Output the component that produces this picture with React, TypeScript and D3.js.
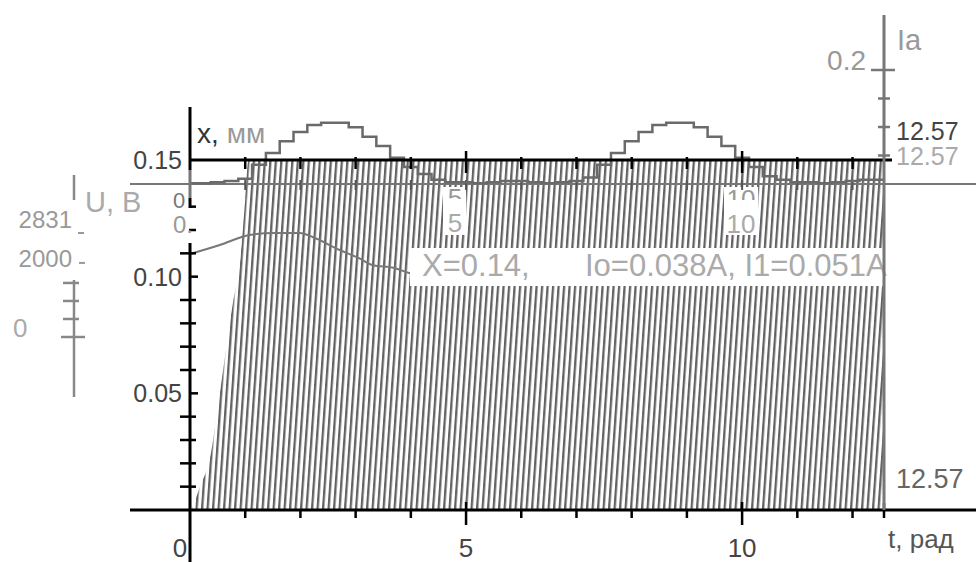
import React from 'react';
import * as d3 from 'd3';

// ---- data ----
const tMajor = [0, 5, 10];
const tMinor = [1, 2, 3, 4, 6, 7, 8, 9, 11, 12];
const tEnd = 12.57;
const yMinor = [0.01, 0.02, 0.03, 0.04, 0.06, 0.07, 0.08, 0.09, 0.11, 0.12, 0.13];
const yMajor = [0.05, 0.1];
const yLabels = ['0.05', '0.10', '0.15'];
const yLabelVals = [0.05, 0.1, 0.15];

// x(t), mm (staircase)
const stairT = [0, 0.25, 0.5, 0.75, 1.0, 1.25, 1.5, 1.75, 2.0, 2.25, 2.5, 2.75, 3.0, 3.25, 3.5, 3.75, 4.0, 4.25, 4.5, 4.75, 5.0, 5.25, 5.5, 5.75, 6.0, 6.25, 6.5, 6.75, 7.0, 7.25, 7.5, 7.75, 8.0, 8.25, 8.5, 8.75, 9.0, 9.25, 9.5, 9.75, 10.0, 10.25, 10.5, 10.75, 11.0, 11.25, 11.5, 11.75, 12.0, 12.25, 12.57];
const stairX = [0.14, 0.14, 0.1405, 0.141, 0.142, 0.148, 0.153, 0.158, 0.162, 0.165, 0.166, 0.166, 0.164, 0.16, 0.156, 0.151, 0.147, 0.144, 0.1415, 0.1405, 0.1405, 0.14, 0.1405, 0.141, 0.141, 0.1405, 0.14, 0.1405, 0.141, 0.1425, 0.148, 0.153, 0.158, 0.162, 0.165, 0.166, 0.166, 0.164, 0.16, 0.156, 0.151, 0.147, 0.143, 0.1415, 0.1405, 0.1405, 0.14, 0.1405, 0.141, 0.1415, 0.1415];

// U(t), V
const uT = [0, 0.54, 1.08, 1.53, 1.99, 2.22, 2.71, 3.07, 3.3, 3.7, 3.97, 4.4];
const uV = [2303, 2553, 2831, 2886, 2886, 2775, 2414, 2180, 2000, 1915, 1776, 1650];
const uTicks = [500, 1000, 1500];

// envelope of the fast current (hatched area)
const envT = [0.03, 0.18, 0.36, 0.54, 0.78, 0.9, 1.0, 1.06, 12.57];
const envV = [0, 0.01, 0.022, 0.05, 0.089, 0.105, 0.133, 0.15, 0.15];

// Ia axis ticks
const iaTicks = [0.05, 0.1, 0.15, 0.2];

const FONT = 'Liberation Sans, Arial, sans-serif';

export default function App() {
  const tS = d3.scaleLinear().domain([0, tEnd]).range([190, 884]);
  const yS = d3.scaleLinear().domain([0, 0.15]).range([510, 160]);
  const uS = d3.scaleLinear().domain([0, 2831]).range([337, 235]);
  const iaS = d3.scaleLinear().domain([0, 0.2]).range([184, 70]);

  const env = envT.map((t, i) => ({ t, v: envV[i] }));
  const area = d3
    .area<{ t: number; v: number }>()
    .x((d) => tS(d.t))
    .y0(yS(0))
    .y1((d) => yS(d.v))
    .curve(d3.curveMonotoneX);

  const stair = stairT.map((t, i) => ({ t, v: stairX[i] }));
  const stairLine = d3
    .line<{ t: number; v: number }>()
    .x((d) => tS(d.t))
    .y((d) => yS(d.v))
    .curve(d3.curveStep);

  const uData = uT.map((t, i) => ({ t, v: uV[i] }));
  const uLine = d3
    .line<{ t: number; v: number }>()
    .x((d) => tS(d.t))
    .y((d) => uS(d.v))
    .curve(d3.curveMonotoneX);

  const gray = '#6a6a6a';
  const allT = [...tMinor, ...tMajor.filter((t) => t > 0)];

  return (
    <svg
      width={976}
      height={562}
      style={{ position: 'absolute', left: 0, top: 0 }}
      fontFamily={FONT}
    >
      <defs>
        <pattern
          id="hatch"
          patternUnits="userSpaceOnUse"
          width={5.5}
          height={60}
          patternTransform="skewX(-4)"
        >
          <rect x={0} y={0} width={2.3} height={60} fill="#626262" />
        </pattern>
        <clipPath id="clip5">
          <rect x={440} y={186} width={30} height={13} />
        </clipPath>
        <clipPath id="clip10">
          <rect x={720} y={186} width={40} height={14} />
        </clipPath>
      </defs>
      <rect x={0} y={0} width={976} height={562} fill="#fff" />

      {/* hatched fast current */}
      <path d={area(env) || ''} fill="url(#hatch)" />

      {/* white backgrounds for mid labels */}
      <rect x={443} y={187} width={23} height={48} fill="#fff" />
      <rect x={724} y={187} width={34} height={48} fill="#fff" />

      {/* gray base line (x = 0.14 / Ia = 0) */}
      <line x1={130} x2={976} y1={184} y2={184} stroke="#777" strokeWidth={2} />
      {allT.map((t) => (
        <line key={'g' + t} x1={tS(t)} x2={tS(t)} y1={180} y2={190} stroke="#555" strokeWidth={2} />
      ))}

      {/* staircase x(t) */}
      <path d={stairLine(stair) || ''} fill="none" stroke={gray} strokeWidth={2.5} />

      {/* U curve */}
      <path d={uLine(uData) || ''} fill="none" stroke="#777" strokeWidth={2} />

      {/* label box */}
      <rect x={410} y={248} width={488} height={38} fill="#fff" />
      <text x={422} y={276} fontSize={31} fill="#aaa">X=0.14,</text>
      <text x={585} y={276} fontSize={31} fill="#aaa">Io=0.038A, I1=0.051A</text>

      {/* mid labels */}
      <text x={455} y={207} fontSize={26} fill="#999" textAnchor="middle" clipPath="url(#clip5)">5</text>
      <text x={455} y={232} fontSize={26} fill="#aaa" textAnchor="middle">5</text>
      <text x={741} y={208} fontSize={26} fill="#999" textAnchor="middle" clipPath="url(#clip10)">10</text>
      <text x={741} y={233} fontSize={26} fill="#aaa" textAnchor="middle">10</text>

      {/* black top line at 0.15 */}
      <line x1={190} x2={892} y1={yS(0.15)} y2={yS(0.15)} stroke="#000" strokeWidth={3} />
      {tMinor.map((t) => (
        <line key={'tt' + t} x1={tS(t)} x2={tS(t)} y1={157} y2={169} stroke="#000" strokeWidth={2.5} />
      ))}
      {tMajor.filter((t) => t > 0).map((t) => (
        <line key={'tT' + t} x1={tS(t)} x2={tS(t)} y1={151} y2={173} stroke="#000" strokeWidth={2.5} />
      ))}

      {/* black x axis */}
      <line x1={130} x2={976} y1={yS(0)} y2={yS(0)} stroke="#000" strokeWidth={3} />
      {tMinor.map((t) => (
        <line key={'bt' + t} x1={tS(t)} x2={tS(t)} y1={510} y2={518} stroke="#000" strokeWidth={2.5} />
      ))}
      {tMajor.filter((t) => t > 0).map((t) => (
        <line key={'bT' + t} x1={tS(t)} x2={tS(t)} y1={502} y2={525} stroke="#000" strokeWidth={2.5} />
      ))}
      <line x1={tS(tEnd)} x2={tS(tEnd)} y1={503} y2={518} stroke="#000" strokeWidth={2.5} />

      {/* black y axis ticks */}
      {yMinor.map((v) => (
        <line key={'ym' + v} x1={180} x2={196} y1={yS(v)} y2={yS(v)} stroke="#000" strokeWidth={2.5} />
      ))}
      {yMajor.map((v) => (
        <line key={'yM' + v} x1={190} x2={198} y1={yS(v)} y2={yS(v)} stroke="#000" strokeWidth={2.5} />
      ))}
      {/* blank patch behind the "0" labels */}
      <rect x={166} y={188} width={23} height={55} fill="#fff" />

      {/* black y axis (interrupted) */}
      <line x1={190} x2={190} y1={107} y2={170} stroke="#000" strokeWidth={3} />
      <line x1={190} x2={190} y1={170} y2={198} stroke="#777" strokeWidth={3} />
      <line x1={190} x2={190} y1={198} y2={208} stroke="#000" strokeWidth={3} />
      <line x1={190} x2={190} y1={243} y2={562} stroke="#000" strokeWidth={3} />

      {/* y labels */}
      {yLabels.map((l, i) => (
        <text
          key={l}
          x={182}
          y={yS(yLabelVals[i]) + 9}
          fontSize={25}
          fill="#444"
          textAnchor="end"
        >
          {l}
        </text>
      ))}
      <text x={197} y={143} fontSize={28} fill="#333">
        x,<tspan fill="#999" dx={8}>мм</tspan>
      </text>
      <text x={173} y={208} fontSize={22} fill="#777">0</text>
      <text x={173} y={233} fontSize={24} fill="#999">0.</text>

      {/* bottom labels */}
      {tMajor.map((t) => (
        <text key={'bl' + t} x={t === 0 ? 180 : tS(t)} y={557} fontSize={26} fill="#444" textAnchor="middle">
          {t}
        </text>
      ))}
      <text x={888} y={548} fontSize={26} fill="#555">t, рад</text>
      <text x={896} y={488} fontSize={27} fill="#666">12.57</text>

      {/* U axis (gray, left) */}
      <line x1={74} x2={74} y1={175} y2={200} stroke="#888" strokeWidth={2.5} />
      <line x1={74} x2={74} y1={280} y2={397} stroke="#888" strokeWidth={2.5} />
      {uTicks.map((u) => (
        <line key={'u' + u} x1={63} x2={79} y1={uS(u)} y2={uS(u)} stroke="#888" strokeWidth={2.5} />
      ))}
      <line x1={61} x2={85} y1={uS(0)} y2={uS(0)} stroke="#888" strokeWidth={2.5} />
      <line x1={78} x2={84} y1={uS(2831) - 2} y2={uS(2831) - 2} stroke="#999" strokeWidth={2} />
      <line x1={79} x2={85} y1={uS(2000) - 2} y2={uS(2000) - 2} stroke="#999" strokeWidth={2} />
      <text x={85} y={212} fontSize={29} fill="#aaa">U, B</text>
      <text x={72} y={228} fontSize={24} fill="#999" textAnchor="end">2831</text>
      <text x={72} y={267} fontSize={24} fill="#999" textAnchor="end">2000</text>
      <text x={13} y={337} fontSize={26} fill="#aaa">0</text>

      {/* Ia axis (gray, right) */}
      <line x1={884} x2={884} y1={15} y2={510} stroke="#777" strokeWidth={3} />
      {iaTicks.map((v) => (
        <line
          key={'ia' + v}
          x1={v === 0.2 ? 871 : 878}
          x2={v === 0.2 ? 895 : 890}
          y1={iaS(v)}
          y2={iaS(v)}
          stroke="#777"
          strokeWidth={2.5}
        />
      ))}
      <text x={866} y={70} fontSize={28} fill="#999" textAnchor="end">0.2</text>
      <text x={897} y={50} fontSize={29} fill="#999">Ia</text>
      <text x={896} y={140} fontSize={25} fill="#444">12.57</text>
      <text x={896} y={165} fontSize={25} fill="#aaa">12.57</text>
    </svg>
  );
}
